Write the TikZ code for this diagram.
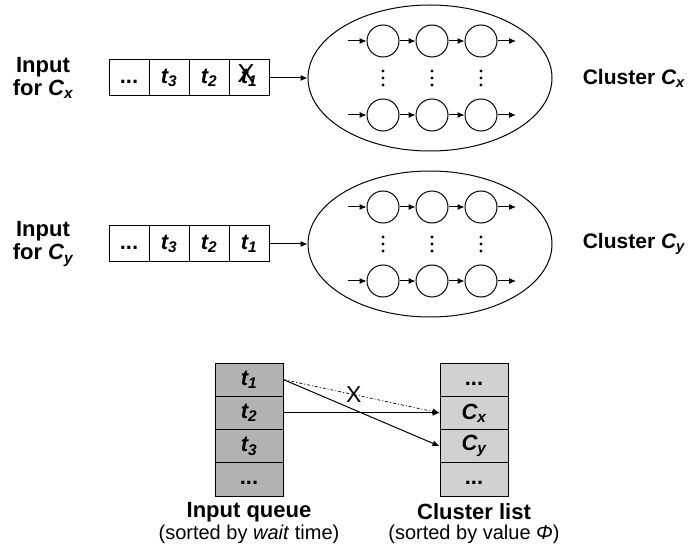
\documentclass[tikz,border=0pt]{standalone}
\usepackage{fontspec}
\setmainfont{Liberation Sans}
\usetikzlibrary{arrows.meta,shapes.geometric}

\newcommand{\tk}[1]{t\textsubscript{#1}}
\newcommand{\ck}[1]{C\textsubscript{#1}}
\newcommand{\dd}{\textup{...}\vphantom{\tk{1}}}

\begin{document}
\begin{tikzpicture}[x=1pt,y=-1pt,line width=1pt,>={Latex[length=7pt,width=6pt]},
	cell/.style={draw,minimum width=40pt,minimum height=36pt,inner sep=0pt,font=\fontsize{22}{22}\selectfont\bfseries\itshape},
	listcell/.style={draw,minimum width=68pt,minimum height=33.25pt,inner sep=0pt,font=\fontsize{22}{22}\selectfont\bfseries\itshape},
	proc/.style={draw,circle,minimum size=32pt,inner sep=0pt},
	cluster/.style={draw,ellipse,minimum width=244pt,minimum height=146pt,inner sep=0pt},
	lbl/.style={font=\fontsize{22}{23}\selectfont\bfseries,align=center},
	sub/.style={font=\fontsize{20}{22}\selectfont}]
	\useasboundingbox (0,0) rectangle (689,559);

	\foreach \y/\c in {78/x,244/y} {
		\node[lbl] (in\c) at (43,\y) {Input\\for \textit{\ck{\c}}};
		\node[cluster] (cl\c) at (430,\y) {};
		\node[lbl,anchor=west,font=\fontsize{21}{23}\selectfont\bfseries] (name\c) at (579,\y) {Cluster \textit{\ck{\c}}};
		\foreach \i/\t in {1/\dd,2/\tk{3},3/\tk{2},4/\tk{1}}
			\node[cell] (q\c\i) at (89+\i*40,\y) {\t};
		\draw[->] (q\c4.east) -- (cl\c.west);
		\foreach \r/\dy in {a/-37,b/37} {
			\foreach \i/\x in {1/383,2/432,3/481}
				\node[proc] (p\c\r\i) at (\x,\y+\dy) {};
			\coordinate (s\c\r) at (348,\y+\dy);
			\coordinate (e\c\r) at (516,\y+\dy);
			\draw[->] (s\c\r) -- (p\c\r1);
			\draw[->] (p\c\r1) -- (p\c\r2);
			\draw[->] (p\c\r2) -- (p\c\r3);
			\draw[->] (p\c\r3) -- (e\c\r);
		}
		\foreach \x in {383,432,481}
		\foreach \dy in {-7,0,7}
			\fill (\x,\y+\dy) circle (1.7pt);
	}
	\node[font=\fontsize{26}{26}\selectfont] (cross) at (246,74) {X};

	\foreach \i/\t in {1/\tk{1},2/\tk{2},3/\tk{3},4/\dd}
		\node[listcell,fill=black!30] (iq\i) at (249,346.375+\i*33.25) {\t};
	\foreach \i/\t in {1/\dd,2/\ck{x},3/\ck{y},4/\dd}
		\node[listcell,fill=black!18] (cq\i) at (474,346.375+\i*33.25) {\t};

	\draw[->,dash dot,line width=0.7pt] (iq1.east) -- node[pos=0.45,font=\fontsize{23}{23}\selectfont] (miss) {X} (cq2.west);
	\draw[->] (iq2.east) -- (cq2.west);
	\draw[->] (iq1.east) -- (cq3.west);

	\node[lbl] (qname) at (249,512) {Input queue};
	\node[sub] (qsort) at (249,534) {(sorted by \textit{wait} time)};
	\node[lbl] (lname) at (474,512) {Cluster list};
	\node[sub] (lsort) at (474,534) {(sorted by value \textit{Φ})};
\end{tikzpicture}
\end{document}
